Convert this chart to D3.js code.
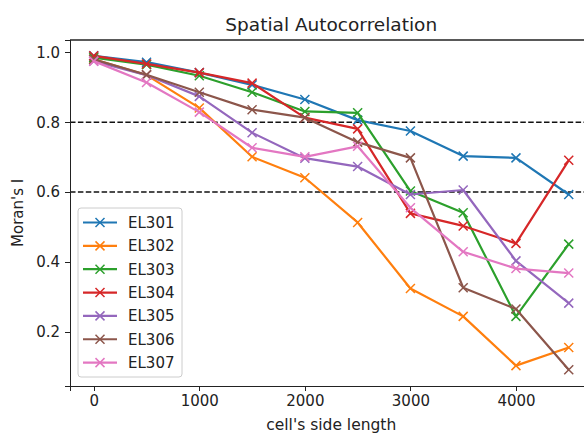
<html>
<head>
<script src="https://cdn.jsdelivr.net/npm/d3@7"></script>
<style>
  body { margin: 0; background: white; }
  svg text { font-family: "DejaVu Sans", sans-serif; fill: #222; }
  .axis path, .axis line { stroke: #222; shape-rendering: crispEdges; }
</style>
</head>
<body>
<svg id="chart" width="584" height="433"></svg>
<script>
// cell side lengths
var sideLength = [0, 500, 1000, 1500, 2000, 2500, 3000, 3500, 4000, 4500];
var seriesNames = ["EL301", "EL302", "EL303", "EL304", "EL305", "EL306", "EL307"];
var el301 = [0.99, 0.972, 0.942, 0.907, 0.865, 0.806, 0.775, 0.703, 0.698, 0.593];
var el302 = [0.98, 0.935, 0.841, 0.701, 0.641, 0.513, 0.324, 0.244, 0.103, 0.155];
var el303 = [0.985, 0.965, 0.933, 0.886, 0.831, 0.827, 0.603, 0.541, 0.244, 0.451];
var el304 = [0.99, 0.967, 0.942, 0.912, 0.813, 0.781, 0.539, 0.503, 0.453, 0.691];
var el305 = [0.975, 0.935, 0.874, 0.770, 0.697, 0.673, 0.593, 0.606, 0.403, 0.282];
var el306 = [0.98, 0.936, 0.886, 0.836, 0.813, 0.743, 0.698, 0.326, 0.265, 0.091];
var el307 = [0.975, 0.914, 0.829, 0.727, 0.701, 0.731, 0.555, 0.429, 0.381, 0.368];
var thresholds = [0.8, 0.6];
var xTicks = [0, 1000, 2000, 3000, 4000];
var yTicks = [0.2, 0.4, 0.6, 0.8, 1.0];
var colors = ["#1f77b4", "#ff7f0e", "#2ca02c", "#d62728", "#9467bd", "#8c564b", "#e377c2"];

var allSeries = [el301, el302, el303, el304, el305, el306, el307];

var svg = d3.select("#chart");
var padLeft = 70, padTop = 40, padRight = 592.5, padBottom = 385.7;

var x = d3.scaleLinear().domain([-225, 4725]).range([padLeft, padRight]);
var y = d3.scaleLinear().domain([0.0455, 1.0355]).range([padBottom, padTop]);

svg.append("defs").append("clipPath").attr("id", "clip")
  .append("rect").attr("x", padLeft).attr("y", padTop)
  .attr("width", padRight - padLeft).attr("height", padBottom - padTop);

var plot = svg.append("g").attr("clip-path", "url(#clip)");

// threshold lines
plot.selectAll(".thr")
  .data(thresholds)
  .enter().append("line")
  .attr("x1", padLeft).attr("x2", padRight)
  .attr("y1", function(d) { return y(d); })
  .attr("y2", function(d) { return y(d); })
  .attr("stroke", "#111")
  .attr("stroke-width", 1.4)
  .attr("stroke-dasharray", "5.5,2.4");

var line = d3.line()
  .x(function(d, i) { return x(sideLength[i]); })
  .y(function(d) { return y(d); });

function cross(g, cx, cy, color) {
  var s = 4.5;
  g.append("path")
    .attr("d", "M" + (cx - s) + "," + (cy - s) + "L" + (cx + s) + "," + (cy + s) +
               "M" + (cx - s) + "," + (cy + s) + "L" + (cx + s) + "," + (cy - s))
    .attr("stroke", color)
    .attr("stroke-width", 1.5)
    .attr("fill", "none");
}

allSeries.forEach(function(vals, k) {
  plot.append("path")
    .datum(vals)
    .attr("d", line)
    .attr("fill", "none")
    .attr("stroke", colors[k])
    .attr("stroke-width", 2.2)
    .attr("stroke-linejoin", "round");
  vals.forEach(function(v, i) {
    cross(plot, x(sideLength[i]), y(v), colors[k]);
  });
});

// axes
svg.append("g")
  .attr("class", "axis")
  .attr("transform", "translate(0," + padBottom + ")")
  .call(d3.axisBottom(x).tickValues(xTicks).tickSize(5).tickPadding(5).tickFormat(d3.format("d")))
  .call(function(g) { g.selectAll("text").attr("font-size", 15).style("font-family", "DejaVu Sans"); });

svg.append("g")
  .attr("class", "axis")
  .attr("transform", "translate(" + padLeft + ",0)")
  .call(d3.axisLeft(y).tickValues(yTicks).tickSize(5).tickPadding(5).tickFormat(d3.format(".1f")))
  .call(function(g) { g.selectAll("text").attr("font-size", 15).style("font-family", "DejaVu Sans"); });

// top spine
svg.append("line")
  .attr("x1", padLeft).attr("x2", padRight).attr("y1", padTop).attr("y2", padTop)
  .attr("stroke", "#222").attr("stroke-width", 1.3);
svg.selectAll(".axis path").attr("stroke-width", 1.3);

// title and labels
svg.append("text")
  .attr("x", (padLeft + padRight) / 2).attr("y", 31)
  .attr("text-anchor", "middle")
  .attr("font-size", 18.5)
  .text("Spatial Autocorrelation");

svg.append("text")
  .attr("x", (padLeft + padRight) / 2).attr("y", 430)
  .attr("text-anchor", "middle")
  .attr("font-size", 15.5)
  .text("cell's side length");

svg.append("text")
  .attr("transform", "translate(23," + ((padTop + padBottom) / 2) + ") rotate(-90)")
  .attr("text-anchor", "middle")
  .attr("font-size", 15)
  .text("Moran's I");

// legend
var legend = svg.append("g");
legend.append("rect")
  .attr("x", 78).attr("y", 208)
  .attr("width", 104).attr("height", 169)
  .attr("rx", 3)
  .attr("fill", "white").attr("fill-opacity", 0.8)
  .attr("stroke", "#ccc");

seriesNames.forEach(function(name, k) {
  var ly = 222.5 + k * 23.35;
  legend.append("line")
    .attr("x1", 83).attr("x2", 117).attr("y1", ly).attr("y2", ly)
    .attr("stroke", colors[k]).attr("stroke-width", 2.2);
  cross(legend, 100, ly, colors[k]);
  legend.append("text")
    .attr("x", 128).attr("y", ly + 5.5)
    .attr("font-size", 15)
    .text(name);
});
</script>
</body>
</html>
